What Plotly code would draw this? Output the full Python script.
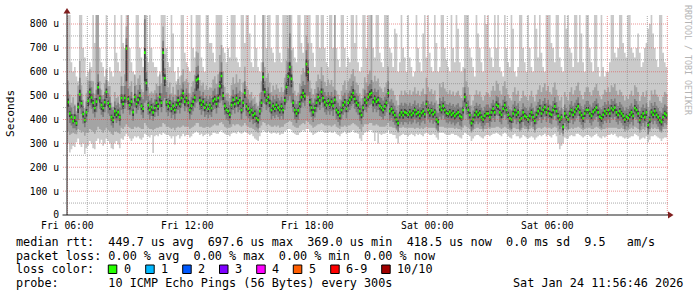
import plotly.graph_objects as go
from datetime import datetime, timedelta

# ---------------- data (microseconds, one sample every 5 minutes from Fri 06:00) ----------------
median_us = [
    473, 425, 410, 393, 408, 385, 452, 505, 468, 423, 398, 430,
    478, 515, 492, 470, 448, 475, 535, 490, 460, 448, 472, 515,
    469, 455, 410, 398, 435, 420, 431, 410, 490, 465, 490, 697.6,
    486, 460, 475, 431, 494, 465, 482, 500, 457, 445, 680, 553,
    460, 440, 452, 430, 448, 470, 455, 494, 470, 680, 573, 473,
    455, 470, 445, 457, 440, 462, 480, 465, 490, 510, 475, 490,
    470, 440, 458, 475, 492, 565, 570, 480, 462, 475, 450, 462,
    445, 460, 448, 478, 486, 465, 490, 540, 582, 500, 457, 440,
    435, 420, 460, 482, 465, 490, 470, 480, 440, 470, 511, 455,
    445, 430, 440, 418, 425, 405, 398, 435, 470, 578, 515, 480,
    494, 470, 440, 457, 445, 462, 450, 440, 455, 440, 480, 536,
    580, 620, 570, 470, 440, 425, 438, 465, 493, 511, 498, 632,
    599, 473, 450, 431, 448, 470, 494, 480, 515, 490, 473, 460,
    478, 462, 475, 458, 482, 440, 430, 415, 440, 460, 473, 445,
    470, 482, 495, 511, 486, 470, 460, 435, 419, 450, 482, 470,
    495, 505, 511, 473, 488, 475, 482, 458, 450, 440, 455, 470,
    511, 435, 445, 430, 418, 400, 385, 419, 430, 418, 431, 427,
    420, 432, 419, 427, 440, 423, 430, 415, 427, 435, 422, 465,
    440, 427, 438, 422, 431, 400, 390, 452, 440, 457, 440, 427,
    423, 432, 420, 427, 415, 423, 430, 415, 410, 440, 494, 460,
    440, 419, 385, 400, 419, 432, 420, 427, 410, 400, 415, 425,
    425, 410, 430, 445, 430, 462, 455, 430, 420, 445, 460, 440,
    420, 405, 400, 425, 440, 420, 430, 398, 405, 430, 415, 410,
    400, 415, 430, 410, 395, 420, 435, 448, 425, 440, 452, 430,
    445, 425, 420, 440, 455, 435, 415, 400, 410, 369, 425, 410,
    400, 425, 440, 420, 432, 445, 455, 430, 418, 405, 425, 440,
    440, 425, 415, 432, 440, 450, 430, 412, 405, 420, 435, 425,
    440, 425, 448, 440, 450, 430, 419, 435, 425, 415, 400, 412,
    406, 420, 430, 415, 448, 440, 425, 398, 412, 425, 410, 430,
    377, 400, 431, 420, 435, 420, 410, 398, 390, 410, 425, 418.5,
]

ping_max_us = [
    850, 850, 640, 600, 620, 580, 560, 850, 850, 700, 660, 580,
    600, 640, 620, 850, 720, 850, 850, 700, 640, 620, 580, 850,
    560, 620, 600, 580, 850, 680, 640, 600, 850, 720, 700, 850,
    850, 700, 640, 600, 580, 850, 850, 700, 660, 620, 850, 850,
    640, 850, 700, 640, 620, 620, 580, 600, 850, 850, 850, 700,
    640, 620, 850, 760, 600, 560, 620, 580, 850, 850, 680, 640,
    620, 600, 850, 700, 660, 850, 850, 850, 660, 620, 600, 850,
    850, 720, 720, 680, 640, 850, 850, 850, 850, 700, 680, 640,
    700, 660, 850, 850, 850, 660, 640, 620, 850, 850, 720, 850,
    850, 760, 640, 620, 850, 700, 620, 600, 640, 850, 850, 700,
    850, 850, 700, 680, 640, 850, 850, 680, 640, 850, 850, 850,
    850, 850, 850, 700, 660, 640, 850, 850, 720, 680, 850, 850,
    850, 850, 720, 680, 620, 850, 850, 700, 850, 850, 700, 640,
    620, 850, 850, 700, 850, 700, 650, 620, 850, 850, 700, 620,
    660, 640, 850, 850, 720, 850, 640, 600, 620, 850, 850, 700,
    850, 850, 850, 700, 660, 850, 850, 680, 640, 620, 850, 850,
    850, 700, 680, 620, 780, 760, 600, 640, 850, 700, 660, 600,
    850, 660, 620, 580, 600, 850, 700, 640, 600, 760, 850, 660,
    850, 680, 620, 600, 850, 720, 600, 620, 850, 850, 700, 650,
    620, 600, 850, 700, 640, 850, 780, 640, 600, 620, 850, 850,
    850, 700, 660, 620, 580, 850, 760, 700, 640, 600, 850, 800,
    850, 700, 660, 620, 850, 700, 850, 620, 600, 580, 850, 700,
    640, 620, 850, 780, 600, 580, 620, 850, 850, 700, 640, 600,
    850, 700, 620, 600, 850, 780, 660, 850, 680, 620, 600, 850,
    850, 850, 720, 700, 640, 850, 850, 660, 620, 600, 850, 780,
    850, 700, 680, 620, 850, 850, 640, 850, 760, 640, 600, 850,
    850, 700, 640, 600, 850, 850, 620, 580, 850, 620, 580, 600,
    600, 640, 850, 850, 680, 660, 700, 850, 850, 720, 680, 660,
    850, 850, 700, 680, 660, 700, 760, 680, 620, 640, 700, 720,
    780, 800, 850, 760, 700, 650, 620, 850, 850, 680, 640, 620,
]

ping_min_us = [
    300, 262, 275, 290, 285, 305, 320, 295, 285, 300, 255, 280,
    290, 310, 300, 280, 275, 310, 320, 300, 315, 290, 300, 320,
    310, 300, 280, 275, 300, 310, 295, 280, 320, 315, 330, 340,
    330, 320, 310, 320, 330, 325, 330, 320, 315, 325, 340, 335,
    330, 325, 335, 260, 330, 335, 330, 340, 335, 345, 340, 335,
    335, 330, 320, 330, 295, 330, 335, 320, 330, 340, 330, 335,
    335, 325, 330, 340, 345, 350, 345, 335, 340, 330, 335, 340,
    340, 330, 335, 345, 345, 340, 340, 350, 355, 345, 340, 335,
    335, 330, 340, 345, 345, 340, 350, 345, 340, 345, 350, 345,
    340, 335, 340, 330, 320, 315, 310, 330, 345, 355, 350, 345,
    350, 345, 340, 345, 345, 340, 345, 335, 340, 340, 350, 355,
    360, 360, 355, 345, 340, 335, 335, 345, 350, 355, 350, 360,
    360, 350, 345, 335, 340, 345, 350, 350, 355, 350, 345, 345,
    345, 350, 345, 345, 350, 340, 335, 330, 340, 345, 350, 340,
    345, 345, 350, 355, 345, 345, 340, 320, 310, 335, 345, 350,
    350, 355, 355, 345, 310, 345, 300, 340, 335, 340, 340, 345,
    355, 340, 340, 335, 335, 320, 300, 330, 335, 340, 335, 335,
    330, 335, 340, 335, 330, 340, 335, 340, 335, 330, 340, 345,
    340, 335, 335, 340, 335, 325, 315, 345, 345, 345, 340, 335,
    335, 335, 340, 340, 335, 335, 330, 325, 320, 335, 345, 340,
    335, 330, 310, 320, 330, 335, 335, 330, 325, 320, 330, 335,
    335, 330, 335, 340, 340, 345, 340, 335, 330, 340, 345, 340,
    330, 325, 320, 335, 340, 330, 330, 320, 325, 335, 330, 325,
    320, 325, 330, 325, 315, 325, 330, 335, 330, 335, 340, 330,
    335, 330, 325, 335, 340, 330, 300, 275, 290, 300, 325, 320,
    320, 330, 335, 330, 330, 340, 340, 335, 330, 325, 330, 335,
    335, 330, 325, 330, 335, 340, 330, 325, 320, 330, 325, 330,
    335, 335, 340, 335, 340, 330, 325, 330, 330, 325, 320, 325,
    320, 325, 330, 330, 340, 335, 330, 315, 320, 325, 320, 330,
    305, 315, 330, 330, 335, 330, 325, 320, 310, 320, 325, 325,
]

p9_us = [
    563, 505, 470, 493, 463, 435, 542, 645, 543, 483, 448, 510,
    563, 610, 562, 560, 508, 850, 850, 560, 525, 503, 552, 610,
    539, 540, 470, 453, 515, 490, 496, 465, 580, 540, 590, 790,
    850, 540, 560, 491, 589, 545, 572, 585, 527, 515, 850, 663,
    535, 510, 517, 510, 523, 550, 540, 589, 550, 790, 673, 563,
    535, 555, 510, 537, 505, 547, 570, 545, 585, 610, 560, 570,
    555, 510, 538, 560, 587, 685, 680, 565, 542, 555, 525, 542,
    525, 535, 533, 568, 581, 550, 590, 670, 712, 600, 537, 510,
    510, 490, 545, 577, 550, 590, 555, 570, 515, 555, 621, 540,
    525, 505, 515, 488, 495, 470, 458, 510, 560, 850, 620, 575,
    594, 555, 515, 542, 525, 547, 530, 515, 535, 515, 575, 646,
    700, 850, 690, 560, 520, 500, 513, 550, 588, 616, 598, 752,
    719, 563, 530, 506, 528, 560, 589, 570, 620, 585, 558, 540,
    568, 547, 565, 538, 850, 520, 505, 485, 520, 545, 563, 525,
    560, 572, 590, 611, 581, 555, 545, 510, 489, 530, 577, 555,
    590, 605, 850, 558, 583, 560, 572, 538, 530, 515, 535, 555,
    621, 525, 530, 520, 503, 480, 460, 504, 520, 503, 521, 512,
    505, 522, 504, 517, 535, 508, 520, 500, 517, 530, 507, 575,
    535, 517, 528, 507, 521, 480, 465, 552, 535, 557, 530, 517,
    508, 522, 505, 517, 500, 513, 520, 500, 490, 535, 614, 560,
    535, 504, 460, 480, 504, 522, 505, 517, 495, 480, 500, 515,
    510, 495, 520, 540, 520, 562, 550, 520, 505, 540, 560, 530,
    505, 490, 480, 515, 535, 505, 520, 478, 490, 520, 500, 495,
    480, 500, 520, 495, 475, 505, 525, 543, 515, 535, 552, 520,
    540, 515, 505, 535, 555, 525, 500, 480, 495, 444, 515, 495,
    480, 515, 535, 505, 522, 540, 555, 520, 503, 485, 515, 535,
    535, 515, 500, 522, 535, 550, 520, 497, 485, 505, 525, 515,
    535, 515, 543, 535, 550, 520, 504, 525, 515, 500, 480, 497,
    486, 505, 520, 500, 543, 535, 515, 478, 497, 515, 495, 520,
    452, 480, 521, 505, 525, 505, 495, 478, 470, 495, 515, 508,
]

p2_us = [
    350, 335, 340, 345, 340, 338, 360, 355, 345, 350, 332, 345,
    345, 360, 355, 350, 340, 355, 370, 360, 355, 345, 355, 365,
    355, 350, 340, 335, 350, 350, 345, 340, 365, 360, 370, 380,
    370, 365, 360, 360, 370, 365, 370, 365, 360, 360, 385, 375,
    365, 360, 360, 355, 360, 365, 365, 370, 370, 385, 380, 370,
    370, 365, 360, 365, 355, 365, 370, 365, 370, 375, 370, 370,
    370, 360, 365, 370, 375, 385, 385, 370, 370, 365, 365, 370,
    370, 365, 370, 375, 380, 375, 375, 385, 390, 380, 370, 365,
    365, 365, 370, 380, 375, 380, 380, 375, 370, 375, 385, 375,
    370, 365, 365, 360, 355, 350, 345, 365, 375, 390, 385, 375,
    380, 375, 370, 370, 375, 370, 375, 365, 370, 370, 380, 385,
    390, 395, 390, 375, 370, 365, 365, 375, 380, 385, 380, 395,
    390, 380, 375, 365, 370, 375, 380, 380, 385, 380, 375, 375,
    375, 375, 370, 375, 380, 370, 365, 360, 370, 370, 375, 370,
    375, 375, 380, 385, 380, 375, 370, 360, 350, 370, 380, 380,
    380, 385, 385, 375, 375, 380, 375, 370, 370, 370, 370, 375,
    385, 370, 370, 365, 365, 355, 345, 365, 365, 370, 365, 365,
    365, 365, 365, 365, 360, 365, 365, 360, 365, 360, 365, 370,
    365, 365, 365, 365, 365, 355, 345, 370, 370, 370, 365, 365,
    365, 365, 365, 365, 360, 365, 360, 360, 355, 365, 375, 370,
    365, 360, 345, 355, 360, 365, 365, 360, 360, 350, 360, 360,
    365, 360, 365, 365, 365, 370, 370, 365, 360, 365, 370, 365,
    360, 355, 350, 365, 365, 360, 360, 350, 355, 365, 360, 360,
    350, 360, 365, 360, 345, 360, 365, 365, 360, 365, 370, 365,
    365, 365, 360, 365, 370, 365, 350, 335, 345, 330, 360, 355,
    355, 360, 365, 360, 365, 365, 370, 365, 360, 355, 360, 365,
    365, 365, 360, 360, 365, 370, 365, 360, 355, 360, 360, 365,
    365, 365, 365, 365, 365, 365, 360, 360, 365, 360, 350, 355,
    355, 360, 365, 360, 370, 365, 360, 345, 355, 360, 355, 365,
    335, 350, 365, 360, 365, 360, 360, 350, 345, 360, 360, 360,
]

p8_us = [
    518, 460, 450, 423, 458, 420, 507, 575, 508, 458, 428, 475,
    520, 560, 535, 510, 490, 525, 590, 530, 500, 485, 515, 565,
    510, 495, 450, 440, 475, 460, 470, 450, 540, 505, 540, 740,
    530, 500, 515, 470, 540, 505, 525, 545, 495, 485, 820, 600,
    500, 480, 490, 470, 485, 510, 495, 540, 510, 730, 615, 515,
    490, 505, 480, 495, 478, 500, 525, 500, 530, 555, 510, 530,
    510, 480, 495, 515, 530, 620, 625, 520, 500, 515, 490, 500,
    485, 500, 490, 520, 530, 505, 535, 600, 640, 545, 495, 480,
    475, 460, 500, 525, 505, 535, 510, 520, 480, 510, 560, 495,
    485, 470, 480, 458, 465, 445, 438, 475, 515, 640, 560, 520,
    535, 510, 480, 500, 485, 505, 490, 480, 495, 480, 525, 590,
    640, 760, 625, 510, 480, 465, 478, 505, 540, 560, 545, 690,
    650, 515, 490, 470, 488, 510, 535, 520, 560, 530, 515, 500,
    515, 500, 515, 495, 525, 480, 470, 455, 480, 500, 512, 485,
    510, 520, 540, 560, 525, 510, 500, 475, 460, 490, 525, 510,
    540, 550, 565, 515, 530, 515, 525, 495, 490, 480, 495, 510,
    560, 475, 485, 470, 458, 440, 425, 460, 470, 458, 470, 466,
    458, 470, 455, 465, 480, 460, 468, 452, 465, 475, 460, 505,
    478, 465, 475, 460, 470, 438, 428, 490, 478, 495, 478, 465,
    462, 470, 458, 465, 453, 462, 468, 453, 448, 480, 535, 500,
    480, 457, 423, 438, 457, 470, 458, 465, 448, 438, 453, 463,
    463, 448, 468, 483, 468, 500, 493, 468, 458, 483, 498, 478,
    458, 443, 438, 463, 478, 458, 468, 436, 443, 468, 453, 448,
    438, 453, 468, 448, 433, 458, 473, 486, 463, 478, 490, 468,
    483, 463, 458, 478, 493, 473, 453, 438, 448, 407, 463, 448,
    438, 463, 478, 458, 470, 483, 493, 468, 456, 443, 463, 478,
    478, 463, 453, 470, 478, 488, 468, 450, 443, 458, 473, 463,
    478, 463, 486, 478, 488, 468, 457, 473, 463, 453, 438, 450,
    444, 458, 468, 453, 486, 478, 463, 436, 450, 463, 448, 468,
    415, 438, 469, 458, 473, 458, 448, 436, 428, 448, 463, 456,
]

p3_us = [
    428, 385, 375, 363, 363, 355, 397, 445, 423, 383, 368, 390,
    430, 460, 445, 425, 408, 430, 480, 445, 420, 410, 430, 460,
    425, 415, 375, 365, 400, 385, 395, 375, 440, 425, 445, 470,
    440, 420, 435, 395, 450, 425, 440, 455, 420, 405, 470, 480,
    420, 400, 415, 395, 410, 430, 415, 450, 430, 480, 490, 430,
    415, 430, 405, 420, 400, 425, 440, 425, 450, 465, 435, 450,
    430, 400, 420, 435, 450, 470, 475, 440, 420, 435, 410, 420,
    405, 420, 410, 440, 445, 425, 450, 470, 480, 460, 420, 400,
    395, 380, 420, 440, 425, 450, 430, 440, 400, 430, 465, 415,
    405, 390, 400, 380, 385, 368, 362, 395, 430, 470, 465, 440,
    450, 430, 400, 415, 405, 420, 410, 400, 415, 400, 440, 470,
    480, 500, 470, 430, 400, 385, 398, 425, 450, 470, 455, 500,
    500, 430, 410, 390, 408, 430, 450, 440, 470, 450, 430, 420,
    435, 420, 435, 415, 440, 400, 390, 375, 400, 420, 430, 405,
    430, 440, 455, 465, 445, 430, 420, 395, 380, 410, 440, 430,
    450, 460, 465, 430, 445, 430, 440, 415, 410, 400, 415, 430,
    465, 395, 405, 390, 378, 362, 350, 380, 390, 378, 390, 387,
    380, 392, 380, 387, 400, 383, 390, 375, 387, 395, 382, 425,
    400, 387, 398, 382, 391, 362, 352, 412, 400, 417, 400, 387,
    383, 392, 380, 387, 375, 383, 390, 375, 370, 400, 450, 420,
    400, 380, 350, 362, 380, 392, 380, 387, 372, 362, 375, 385,
    385, 370, 390, 405, 390, 420, 415, 390, 380, 405, 420, 400,
    380, 365, 360, 385, 400, 380, 390, 358, 365, 390, 375, 370,
    360, 375, 390, 370, 355, 380, 395, 408, 385, 400, 412, 390,
    405, 385, 380, 400, 415, 395, 375, 360, 370, 340, 385, 370,
    360, 385, 400, 380, 392, 405, 415, 390, 378, 365, 385, 400,
    400, 385, 375, 392, 400, 410, 390, 372, 365, 380, 395, 385,
    400, 385, 408, 400, 410, 390, 379, 395, 385, 375, 360, 372,
    366, 380, 390, 375, 408, 400, 385, 358, 372, 385, 370, 390,
    340, 360, 391, 380, 395, 380, 370, 358, 350, 370, 385, 378,
]

p7_us = [
    488, 435, 422, 401, 422, 395, 470, 525, 480, 433, 407, 444,
    492, 530, 505, 482, 458, 490, 555, 502, 472, 458, 485, 530,
    480, 468, 420, 410, 450, 432, 442, 420, 505, 478, 505, 712,
    498, 472, 488, 442, 508, 476, 495, 515, 468, 456, 700, 570,
    472, 452, 465, 442, 460, 483, 468, 510, 482, 700, 590, 486,
    468, 482, 456, 470, 452, 475, 495, 478, 505, 525, 488, 503,
    483, 452, 470, 488, 505, 582, 588, 495, 475, 488, 462, 475,
    458, 472, 460, 492, 500, 478, 505, 560, 600, 515, 470, 452,
    448, 432, 473, 495, 478, 505, 482, 494, 452, 483, 528, 468,
    458, 442, 452, 430, 438, 416, 410, 448, 485, 598, 532, 495,
    508, 483, 452, 470, 458, 475, 463, 452, 468, 452, 495, 555,
    598, 640, 588, 483, 452, 437, 450, 478, 508, 528, 512, 652,
    618, 486, 462, 443, 460, 483, 508, 493, 530, 503, 486, 473,
    490, 475, 488, 470, 496, 452, 442, 427, 452, 473, 486, 457,
    483, 495, 510, 528, 500, 483, 473, 447, 430, 463, 496, 483,
    510, 520, 528, 486, 502, 488, 495, 470, 462, 452, 468, 483,
    528, 447, 458, 442, 430, 412, 396, 432, 443, 430, 444, 440,
    432, 444, 430, 440, 452, 435, 442, 427, 440, 447, 434, 480,
    452, 440, 450, 434, 443, 412, 402, 465, 452, 470, 452, 440,
    435, 444, 432, 440, 427, 435, 442, 427, 422, 453, 510, 473,
    453, 431, 397, 412, 431, 445, 432, 440, 422, 412, 427, 437,
    437, 422, 442, 458, 442, 476, 468, 442, 432, 458, 473, 452,
    432, 417, 412, 437, 452, 432, 442, 410, 417, 442, 427, 422,
    412, 427, 442, 422, 407, 432, 448, 461, 437, 453, 465, 442,
    458, 437, 432, 452, 468, 447, 427, 412, 422, 381, 437, 422,
    412, 437, 452, 432, 445, 458, 468, 442, 430, 417, 437, 452,
    452, 437, 427, 445, 452, 463, 442, 424, 417, 432, 448, 437,
    452, 437, 461, 452, 463, 442, 431, 448, 437, 427, 412, 424,
    418, 432, 442, 427, 461, 452, 437, 410, 424, 437, 422, 442,
    389, 412, 443, 432, 448, 432, 422, 410, 402, 422, 437, 430,
]

p4_us = [
    453, 410, 398, 383, 390, 373, 427, 475, 448, 408, 386, 412,
    455, 490, 470, 450, 432, 455, 505, 470, 440, 432, 452, 490,
    450, 440, 395, 385, 415, 405, 415, 395, 468, 445, 470, 560,
    465, 442, 458, 415, 475, 448, 465, 480, 440, 430, 560, 520,
    442, 425, 435, 415, 432, 452, 440, 475, 452, 580, 540, 455,
    438, 452, 430, 440, 425, 445, 460, 448, 470, 490, 458, 472,
    452, 425, 442, 458, 475, 520, 530, 462, 445, 458, 435, 445,
    430, 445, 432, 462, 470, 448, 472, 500, 530, 482, 440, 425,
    420, 405, 443, 465, 448, 472, 453, 462, 425, 452, 490, 438,
    430, 415, 425, 402, 410, 390, 383, 420, 452, 520, 495, 462,
    475, 452, 425, 440, 430, 445, 435, 425, 440, 425, 462, 505,
    540, 580, 535, 452, 425, 410, 422, 448, 475, 490, 480, 580,
    560, 455, 435, 415, 432, 452, 475, 462, 495, 472, 455, 443,
    462, 445, 458, 442, 465, 425, 415, 400, 425, 443, 455, 430,
    453, 465, 477, 490, 470, 453, 445, 420, 405, 435, 465, 453,
    477, 487, 490, 456, 470, 458, 465, 442, 435, 425, 440, 453,
    492, 420, 430, 415, 404, 386, 372, 404, 415, 403, 416, 412,
    405, 417, 404, 412, 425, 408, 415, 400, 412, 420, 407, 448,
    425, 412, 423, 407, 416, 386, 376, 436, 425, 441, 425, 412,
    408, 417, 405, 412, 400, 408, 415, 400, 395, 425, 472, 443,
    425, 404, 371, 386, 404, 417, 405, 412, 395, 386, 400, 410,
    410, 395, 415, 430, 415, 445, 440, 415, 405, 430, 443, 425,
    405, 390, 385, 410, 425, 405, 415, 383, 390, 415, 400, 395,
    385, 400, 415, 395, 380, 405, 420, 432, 410, 425, 436, 415,
    430, 410, 405, 425, 440, 420, 400, 385, 395, 355, 410, 395,
    385, 410, 425, 405, 417, 430, 440, 415, 403, 390, 410, 425,
    425, 410, 400, 417, 425, 435, 415, 397, 390, 405, 420, 410,
    425, 410, 433, 425, 435, 415, 404, 420, 410, 400, 385, 397,
    391, 405, 415, 400, 433, 425, 410, 383, 397, 410, 395, 415,
    362, 385, 416, 405, 420, 405, 395, 383, 375, 395, 410, 403,
]

x_tick_labels = ["Fri 06:00", "Fri 12:00", "Fri 18:00", "Sat 00:00", "Sat 06:00"]
y_tick_values = [0, 100, 200, 300, 400, 500, 600, 700, 800]
y_tick_labels = ["0", "100 u", "200 u", "300 u", "400 u", "500 u", "600 u", "700 u", "800 u"]

loss_labels = ["0", "1", "2", "3", "4", "5", "6-9", "10/10"]
loss_colors = ["#26ff00", "#00b8ff", "#0059ff", "#7e00ff", "#ff00ff", "#ff5e00", "#ff0000", "#a10000"]

legend_line1 = "median rtt:  449.7 us avg  697.6 us max  369.0 us min  418.5 us now  0.0 ms sd  9.5   am/s"
legend_line2 = "packet loss: 0.00 % avg  0.00 % max  0.00 % min  0.00 % now"
legend_line3 = "loss color:"
legend_line4 = "probe:       10 ICMP Echo Pings (56 Bytes) every 300s"
stamp_text = "Sat Jan 24 11:56:46 2026"

# ---------------- layout geometry ----------------
W, H = 697, 297
PL, PR, PT, PB = 67, 668, 15, 215
START = datetime(2026, 1, 23, 6, 0, 0)
STEP = timedelta(minutes=5)
X0 = START - timedelta(seconds=54)
X1 = X0 + timedelta(hours=(PR - PL) / 20.0)
YMAX = 837.7
MED_HALF = 5.5
MONO = "DejaVu Sans Mono"


def fx(px):
    return (px - PL) / (PR - PL)


def fy(py):
    return (PB - py) / (PB - PT)


def nb(s):
    return s.replace(" ", "\u00a0")


n = len(median_us)
times = [START + STEP * i for i in range(n)]
x_ext = times + [times[-1] + STEP]


def ext(a):
    return list(a) + [a[-1]]


LINE = dict(width=0, shape="hv", simplify=False)

fig = go.Figure()

layers = [
    (ping_min_us, ping_max_us, "#cacaca"),
    (p2_us, p9_us, "#a4a4a4"),
    (p3_us, p8_us, "#7e7e7e"),
    (p4_us, p7_us, "#404040"),
]
for lo, hi, col in layers:
    fig.add_trace(go.Scatter(x=x_ext, y=ext(lo), mode="lines", line=LINE,
                             hoverinfo="skip", showlegend=False))
    fig.add_trace(go.Scatter(x=x_ext, y=ext(hi), mode="lines", line=LINE,
                             fill="tonexty", fillcolor=col,
                             hoverinfo="skip", showlegend=False))

med_lo = [m - MED_HALF for m in median_us]
med_hi = [m + MED_HALF for m in median_us]
fig.add_trace(go.Scatter(x=x_ext, y=ext(med_lo), mode="lines", line=LINE,
                         hoverinfo="skip", showlegend=False))
fig.add_trace(go.Scatter(x=x_ext, y=ext(med_hi), mode="lines", line=LINE,
                         fill="tonexty", fillcolor=loss_colors[0],
                         hoverinfo="skip", showlegend=False))

shapes = []
GRID = "rgba(143,143,143,0.75)"
MGRID = "rgba(222,79,79,0.6)"
DASH = "1px,1px"
for v in range(50, 801, 50):
    col = MGRID if v % 100 == 0 else GRID
    shapes.append(dict(type="line", xref="paper", yref="y",
                       x0=fx(63), x1=fx(PR), y0=v, y1=v,
                       line=dict(color=col, width=1, dash=DASH), layer="above"))
for h in range(0, 31):
    t = START + timedelta(hours=h)
    if t > X1:
        break
    col = MGRID if h % 3 == 0 else GRID
    shapes.append(dict(type="line", xref="x", yref="paper",
                       x0=t, x1=t, y0=0, y1=1,
                       line=dict(color=col, width=1, dash=DASH), layer="above"))
AXIS = "#1f1f1f"
ARROW = "#801f1f"
shapes.append(dict(type="line", xref="paper", yref="paper",
                   x0=fx(62.5), x1=fx(PR), y0=fy(215), y1=fy(215),
                   line=dict(color=AXIS, width=1), layer="above"))
shapes.append(dict(type="line", xref="paper", yref="paper",
                   x0=fx(67), x1=fx(67), y0=fy(215), y1=fy(12),
                   line=dict(color=AXIS, width=1), layer="above"))
shapes.append(dict(type="path", xref="paper", yref="paper",
                   path=f"M {fx(668)},{fy(211.5)} L {fx(673.5)},{fy(215)} L {fx(668)},{fy(218.5)} Z",
                   fillcolor=ARROW, line=dict(width=0), layer="above"))
shapes.append(dict(type="path", xref="paper", yref="paper",
                   path=f"M {fx(63.5)},{fy(13.5)} L {fx(67)},{fy(8)} L {fx(70.5)},{fy(13.5)} Z",
                   fillcolor=ARROW, line=dict(width=0), layer="above"))

box_x = [108.3, 145.7, 182.7, 219.5, 256.7, 293.3, 330.7, 381.7]
annotations = []
for bx, col, lab in zip(box_x, loss_colors, loss_labels):
    shapes.append(dict(type="rect", xref="paper", yref="paper",
                       x0=fx(bx), x1=fx(bx + 8.5), y0=fy(265), y1=fy(273.5),
                       fillcolor=col, line=dict(color="#000000", width=1)))
    annotations.append(dict(x=fx(bx + 15.7), y=fy(269.3), xref="paper", yref="paper",
                            text=nb(lab), showarrow=False, xanchor="left", yanchor="middle",
                            font=dict(family=MONO, size=11.8, color="#000000"),
                            borderpad=0, borderwidth=0))

for txt, yy in [(legend_line1, 241.5), (legend_line2, 255.5), (legend_line3, 269.3), (legend_line4, 283.3)]:
    annotations.append(dict(x=fx(16), y=fy(yy), xref="paper", yref="paper",
                            text=nb(txt), showarrow=False, xanchor="left", yanchor="middle",
                            font=dict(family=MONO, size=11.8, color="#000000"),
                            borderpad=0, borderwidth=0))
annotations.append(dict(x=fx(683), y=fy(283.3), xref="paper", yref="paper",
                        text=nb(stamp_text), showarrow=False, xanchor="right", yanchor="middle",
                        font=dict(family=MONO, size=11.8, color="#000000"),
                        borderpad=0, borderwidth=0))
annotations.append(dict(x=fx(10), y=fy(114), xref="paper", yref="paper",
                        text="Seconds", showarrow=False, textangle=-90,
                        xanchor="center", yanchor="middle",
                        font=dict(family=MONO, size=11.2, color="#000000"),
                        borderpad=0, borderwidth=0))
annotations.append(dict(x=fx(688), y=fy(60), xref="paper", yref="paper",
                        text=nb("RRDTOOL / TOBI OETIKER"), showarrow=False, textangle=90,
                        xanchor="center", yanchor="middle",
                        font=dict(family=MONO, size=8.3, color="#b4b4b4"),
                        borderpad=0, borderwidth=0))

fig.update_layout(
    width=W, height=H,
    margin=dict(l=PL, r=W - PR, t=PT, b=H - PB, pad=0),
    paper_bgcolor="#ffffff", plot_bgcolor="#ffffff",
    showlegend=False,
    shapes=shapes, annotations=annotations,
    xaxis=dict(type="date", range=[X0, X1], showgrid=False, zeroline=False, showline=False,
               tickvals=[START + timedelta(hours=6 * k) for k in range(5)],
               ticktext=x_tick_labels, ticks="", ticklabelstandoff=3,
               tickfont=dict(family=MONO, size=9.7, color="#000000"), fixedrange=True),
    yaxis=dict(range=[0, YMAX], showgrid=False, zeroline=False, showline=False,
               tickvals=y_tick_values, ticktext=y_tick_labels, ticks="",
               ticklabelstandoff=7,
               tickfont=dict(family=MONO, size=9.7, color="#000000"), fixedrange=True),
)

fig.write_html("out.html", config={"displayModeBar": False})
